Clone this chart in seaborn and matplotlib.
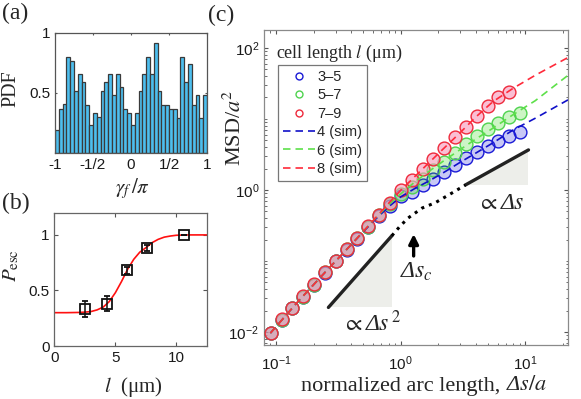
import numpy as np
import seaborn as sns
import matplotlib.pyplot as plt
from matplotlib.lines import Line2D
from matplotlib.ticker import LogLocator, NullFormatter, FixedLocator

sns.set_style("ticks")
plt.rcParams['font.family'] = ['Liberation Sans', 'DejaVu Sans']
plt.rcParams['mathtext.fontset'] = 'stix'
plt.rcParams['xtick.direction'] = 'in'
plt.rcParams['ytick.direction'] = 'in'

SERIF = ['Liberation Serif', 'DejaVu Serif', 'DejaVu Sans']

# ---- (a) histogram of gamma_f / pi ----
bin_width = 0.05
pdf_heights = [0.19, 0.37, 0.41, 0.80, 0.77, 0.52, 0.66, 0.59, 0.40, 0.23,
               0.33, 0.30, 0.52, 0.59, 0.66, 0.48, 0.66, 0.55, 0.37, 0.33,
               0.23, 0.33, 0.52, 0.66, 0.80, 0.66, 0.92, 0.52, 0.40, 0.40,
               0.37, 0.37, 0.29, 0.80, 0.59, 0.74, 0.40, 0.48, 0.29, 0.48]
gamma_ticks = [-1, -0.5, 0, 0.5, 1]
gamma_ticklabels = ['-1', '-1/2', '0', '1/2', '1']

# ---- (b) escape probability vs cell length ----
esc_length = [2.51, 4.28, 5.92, 7.55, 10.6]
esc_prob = [0.333, 0.381, 0.68, 0.882, 1.0]
esc_err = [0.073, 0.068, 0.03, 0.025, 0.0]
fit_length = [0, 1, 2, 2.5, 3, 3.5, 4, 4.5, 5, 5.5, 6, 6.5, 7, 7.5, 8, 8.5,
              9, 9.5, 10, 11, 12.5]
fit_prob = [0.30, 0.30, 0.302, 0.305, 0.31, 0.325, 0.35, 0.40, 0.48, 0.58,
            0.69, 0.78, 0.845, 0.885, 0.93, 0.96, 0.98, 0.99, 0.997, 1.0, 1.0]

# ---- (c) MSD vs normalized arc length ----
arc_len = [0.091, 0.111, 0.135, 0.165, 0.202, 0.247, 0.301, 0.368, 0.45, 0.55,
           0.672, 0.821, 1.0, 1.23, 1.5, 1.83, 2.24, 2.73, 3.34, 4.08, 4.98,
           6.09, 7.44, 9.09]
msd_3_5 = [0.0097, 0.0149, 0.0218, 0.0312, 0.046, 0.069, 0.099, 0.144, 0.205,
           0.30, 0.43, 0.60, 0.823, 0.937, 1.157, 1.406, 1.764, 2.25, 2.82,
           3.43, 4.17, 4.90, 5.76, 6.56]
msd_5_7 = [0.0098, 0.015, 0.022, 0.0315, 0.0465, 0.0695, 0.10, 0.146, 0.208,
           0.305, 0.445, 0.64, 0.879, 1.10, 1.43, 1.91, 2.48, 3.32, 4.37,
           5.76, 7.23, 8.79, 10.7, 12.2]
msd_7_9 = [0.0099, 0.0152, 0.0222, 0.0318, 0.047, 0.070, 0.101, 0.147, 0.211,
           0.308, 0.452, 0.66, 1.0, 1.38, 1.96, 2.71, 3.87, 5.52, 7.79, 11.1,
           15.2, 20.6, 24.2]

sim_len = [0.09, 0.15, 0.25, 0.4, 0.6, 0.8, 1.0, 1.3, 1.7, 2.2, 3.0, 4.0, 5.5,
           8.0, 12.0, 22.0]
sim_4 = [0.0097, 0.027, 0.071, 0.17, 0.36, 0.58, 0.8, 1.05, 1.35, 1.75, 2.45,
         3.3, 4.6, 7.0, 10.2, 18.5]
sim_6 = [0.0097, 0.027, 0.071, 0.17, 0.37, 0.62, 0.88, 1.3, 1.85, 2.55, 3.7,
         5.2, 7.4, 11.5, 18.0, 41.0]
sim_8 = [0.0097, 0.027, 0.071, 0.17, 0.37, 0.65, 0.99, 1.55, 2.45, 3.8, 6.4,
         10.6, 17.5, 27.0, 41.0, 73.0]

# guide lines
ballistic_x = [0.263, 0.849]
ballistic_y = [0.0223, 0.227]
crossover_x = [0.849, 0.99, 1.148, 1.488, 1.894, 2.64, 3.30]
crossover_y = [0.227, 0.311, 0.404, 0.558, 0.662, 0.929, 1.175]
diffusive_x = [3.30, 10.6]
diffusive_y = [1.175, 3.66]
crossover_s = 1.27

exp_series = [('3–5', arc_len, msd_3_5, '#1a1ad6', (0.1, 0.1, 0.85, 0.24)),
              ('5–7', arc_len, msd_5_7, '#4fd34f', (0.25, 0.85, 0.15, 0.26)),
              ('7–9', arc_len[:len(msd_7_9)], msd_7_9, '#ee2a3c', (0.97, 0.6, 0.73, 0.62))]
sim_series = [('4 (sim)', sim_4, '#1010c8'),
              ('6 (sim)', sim_6, '#5ee04a'),
              ('8 (sim)', sim_8, '#ff2a3a')]

fig = plt.figure(figsize=(5.81, 3.99), dpi=100)
W, H = 581, 399


def px_axes(l, t, r, b):
    return fig.add_axes([l / W, 1 - b / H, (r - l) / W, (b - t) / H])


def style_box(ax, color):
    for s in ax.spines.values():
        s.set_visible(True)
        s.set_color(color)
        s.set_linewidth(0.9)
    ax.tick_params(which='both', top=True, right=True, colors='#555555',
                   labelcolor='#1a1a1a', labelsize=11)
    ax.tick_params(which='major', length=3)
    ax.tick_params(which='minor', length=1.8)


# (a)
ax_a = px_axes(55, 33, 207, 153)
centers = np.arange(-1 + bin_width / 2, 1, bin_width)
sns.histplot(x=centers, weights=pdf_heights, binwidth=bin_width,
             binrange=(-1, 1), ax=ax_a, color='#4dbeee', edgecolor='#3a3a3a',
             linewidth=0.9, alpha=1)
ax_a.set_xlim(-1, 1)
ax_a.set_ylim(0, 1)
ax_a.set_xticks(gamma_ticks)
ax_a.set_xticklabels(gamma_ticklabels)
ax_a.set_yticks([0.5, 1])
ax_a.set_yticklabels(['0.5', '1'])
style_box(ax_a, '#555555')
ax_a.tick_params(which='major', length=1.5)
ax_a.set_ylabel('PDF', family=SERIF, fontsize=14.5)
ax_a.yaxis.set_label_coords(-0.225, 0.54)
ax_a.set_xlabel(r'$\gamma_f\,/\pi$', fontsize=15)
ax_a.xaxis.set_label_coords(0.51, -0.19)

# (b)
ax_b = px_axes(54.3, 212.7, 207, 346)
sns.lineplot(x=fit_length, y=fit_prob, ax=ax_b, color='#ff1010', lw=1.2)
ax_b.errorbar(esc_length, esc_prob, yerr=esc_err, fmt='s', ms=7.5,
              mfc='none', mec='#111111', mew=1.3, ecolor='#111111',
              elinewidth=1.1, capsize=2.5, capthick=1.1)
ax_b.set_xlim(0, 12.5)
ax_b.set_ylim(0, 1.2)
ax_b.set_xticks([0, 5, 10])
ax_b.set_yticks([0, 0.5, 1])
ax_b.set_yticklabels(['0', '0.5', '1'])
style_box(ax_b, '#666666')
ax_b.set_ylabel(r'$P_{\mathrm{esc}}$', fontsize=15)
ax_b.yaxis.set_label_coords(-0.215, 0.6)
ax_b.set_xlabel(r'$l$  (μm)', family=SERIF, fontsize=15)
ax_b.xaxis.set_label_coords(0.515, -0.215)

# (c)
ax_c = px_axes(264, 30, 568, 345)
ax_c.set_xscale('log')
ax_c.set_yscale('log')
ax_c.fill([ballistic_x[0], ballistic_x[1], ballistic_x[1]],
          [ballistic_y[0], ballistic_y[0], ballistic_y[1]],
          color='#edeeea', lw=0, zorder=1)
ax_c.fill([diffusive_x[0], diffusive_x[1], diffusive_x[1]],
          [diffusive_y[0], diffusive_y[0], diffusive_y[1]],
          color='#edeeea', lw=0, zorder=1)
ax_c.plot(ballistic_x, ballistic_y, color='#222222', lw=2.4, zorder=2)
ax_c.plot(diffusive_x, diffusive_y, color='#222222', lw=2.4, zorder=2)
ax_c.plot(crossover_x, crossover_y, color='k', lw=2.2, ls=':', zorder=2)

for label, xs, ys, ec, fc in exp_series:
    sns.scatterplot(x=xs, y=ys, ax=ax_c, s=85, color=fc, edgecolor=ec,
                    linewidth=1.0, zorder=3)
for label, ys, col in sim_series:
    sns.lineplot(x=sim_len, y=ys, ax=ax_c, color=col, lw=1.2,
                 linestyle=(0, (4.5, 3)), zorder=4)

ax_c.annotate('', xy=(crossover_s, 0.24), xytext=(crossover_s, 0.118),
              arrowprops=dict(arrowstyle='-|>', color='k', lw=2.4,
                              mutation_scale=14, shrinkA=0, shrinkB=0))
ax_c.text(1.33, 0.070, 'Δ$s_c$', family=SERIF, style='italic', fontsize=17,
          ha='center', va='center')
ax_c.text(0.58, 0.0134, r'$\propto$' + 'Δ' + r'$s^{\,2}$', family=SERIF,
          style='italic', fontsize=17, ha='center', va='center')
ax_c.text(6.3, 0.64, r'$\propto$' + 'Δ' + r'$s$', family=SERIF,
          style='italic', fontsize=17, ha='center', va='center')

ax_c.set_xlim(0.08, 22)
ax_c.set_ylim(10 ** -2.18, 10 ** 2.25)
ax_c.xaxis.set_major_locator(FixedLocator([0.1, 1, 10]))
ax_c.yaxis.set_major_locator(FixedLocator([1e-2, 1, 1e2]))
for axis in (ax_c.xaxis, ax_c.yaxis):
    axis.set_minor_locator(LogLocator(base=10, subs=np.arange(1, 10), numticks=30))
    axis.set_minor_formatter(NullFormatter())
style_box(ax_c, '#8a8a8a')
ax_c.tick_params(axis='x', which='major', pad=7)
ax_c.set_ylabel(r'MSD/$a^2$', family=SERIF, fontsize=16)
ax_c.yaxis.set_label_coords(-0.06, 0.69)
ax_c.text(0.795, -0.1, 'normalized arc length, ', transform=ax_c.transAxes,
          family=SERIF, fontsize=16, ha='right', va='top')
ax_c.text(0.795, -0.1, 'Δ$s/a$', transform=ax_c.transAxes,
          family=SERIF, style='italic', fontsize=16, ha='left', va='top')

handles = []
for label, xs, ys, ec, fc in exp_series:
    handles.append(Line2D([], [], ls='none', marker='o', ms=5, mfc='none',
                          mec=ec, mew=1.0, label=label))
for label, ys, col in sim_series:
    handles.append(Line2D([], [], color=col, lw=1.2, ls=(0, (4.5, 3)),
                          label=label))
leg = ax_c.legend(handles=handles, loc='upper left',
                  bbox_to_anchor=(0.045, 0.889), fontsize=10.5,
                  frameon=True, fancybox=False, framealpha=1,
                  edgecolor='#777777', handlelength=2.2, handletextpad=0.15,
                  labelspacing=0.3, borderpad=0.35, borderaxespad=0)
leg.get_frame().set_linewidth(0.9)
ax_c.text(0.04, 0.925, r'cell length $l$ (μm)', transform=ax_c.transAxes,
          family=SERIF, fontsize=13, ha='left', va='center')

fig.text(2 / W, 1 - 3 / H, '(a)', family=SERIF, fontsize=17, va='top')
fig.text(2 / W, 1 - 193 / H, '(b)', family=SERIF, fontsize=17, va='top')
fig.text(208 / W, 1 - 5 / H, '(c)', family=SERIF, fontsize=17, va='top')

fig.savefig('out.png', dpi=100)
